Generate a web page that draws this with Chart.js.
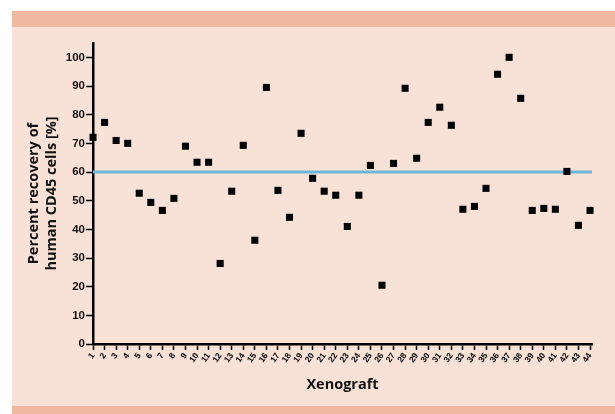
<!DOCTYPE html>
<html>
<head>
<meta charset="utf-8">
<script src="https://cdn.jsdelivr.net/npm/chart.js@4"></script>
<style>
  html, body { margin: 0; padding: 0; background: #ffffff; }
  #wrap { width: 615px; height: 414px; position: relative; }
</style>
</head>
<body>
<div id="wrap"><canvas id="c" width="615" height="414"></canvas></div>
<script>
// ---- data ----
const xenografts = [1,2,3,4,5,6,7,8,9,10,11,12,13,14,15,16,17,18,19,20,21,22,23,24,25,26,27,28,29,30,31,32,33,34,35,36,37,38,39,40,41,42,43,44];
const recovery = [72.1,77.3,71.0,70.0,52.6,49.4,46.6,50.8,69.0,63.4,63.4,28.1,53.3,69.3,36.2,89.5,53.6,44.2,73.5,57.8,
                  53.3,51.9,41.0,51.9,62.3,20.5,63.0,89.2,64.8,77.3,82.6,76.3,47.0,48.0,54.3,94.1,100.0,85.7,46.6,47.3,
                  47.0,60.2,41.4,46.6];
const yTicks = [0,10,20,30,40,50,60,70,80,90,100];
const thresholdValue = 60;
const xTitle = 'Xenograft';
const yTitle = ['Percent recovery of', 'human CD45 cells [%]'];

const xMin = xenografts[0];
const xMax = xenografts[xenografts.length - 1] + 0.17;

const bgPlugin = {
  id: 'panelBg',
  beforeDraw(chart) {
    const ctx = chart.ctx;
    ctx.save();
    ctx.fillStyle = '#ffffff';
    ctx.fillRect(0, 0, chart.width, chart.height);
    ctx.fillStyle = '#F0B8A0';
    ctx.fillRect(12, 11, chart.width - 12, 16);
    ctx.fillStyle = '#F8E2D7';
    ctx.fillRect(12, 27, chart.width - 12, 379);
    ctx.fillStyle = '#F0B8A0';
    ctx.fillRect(12, 406, chart.width - 12, 8);
    ctx.restore();
  }
};

new Chart(document.getElementById('c'), {
  type: 'scatter',
  data: {
    datasets: [
      {
        type: 'line',
        label: 'threshold',
        data: [{x: xMin, y: thresholdValue}, {x: xMax, y: thresholdValue}],
        borderColor: '#6CB6D8',
        borderWidth: 3,
        pointRadius: 0,
        fill: false,
        clip: false,
        order: 2
      },
      {
        label: 'recovery',
        data: xenografts.map((x, i) => ({x: x, y: recovery[i]})),
        pointStyle: 'rect',
        pointRadius: 5,
        pointHoverRadius: 5,
        backgroundColor: '#000000',
        borderColor: '#000000',
        borderWidth: 0,
        clip: false,
        order: 1
      }
    ]
  },
  options: {
    responsive: false,
    animation: false,
    layout: { padding: { left: 16, right: 23, top: 43, bottom: 20 } },
    plugins: { legend: { display: false }, tooltip: { enabled: false } },
    scales: {
      x: {
        type: 'linear',
        min: xMin,
        max: xMax,
        afterBuildTicks(scale) { scale.ticks = xenografts.map(v => ({value: v})); },
        afterCalculateLabelRotation(scale) { scale.labelRotation = 55; },
        afterFit(scale) {
          scale.height = 50;
          scale.paddingLeft = 0; scale.paddingRight = 0;
        },
        grid: { drawOnChartArea: false, drawTicks: true, tickLength: 6, tickWidth: 1.5, tickColor: '#000' },
        border: { display: true, color: '#000', width: 2.5 },
        ticks: {
          autoSkip: false,
          maxRotation: 55,
          minRotation: 55,
          padding: 1,
          color: '#000',
          font: { family: 'Liberation Sans', weight: 'bold', size: 8.5 },
          callback: (v) => String(v)
        },
        title: {
          display: true,
          text: xTitle,
          color: '#111',
          padding: { top: 0, bottom: 0 },
          font: { family: 'Open Sans', weight: 'bold', size: 14.5 }
        }
      },
      y: {
        min: 0,
        max: 105,
        afterBuildTicks(scale) { scale.ticks = yTicks.map(v => ({value: v})); },
        afterFit(scale) {
          scale.width = 77;
          scale.paddingTop = 0; scale.paddingBottom = 0;
        },
        grid: { drawOnChartArea: false, drawTicks: true, tickLength: 7, tickWidth: 1.5, tickColor: '#000' },
        border: { display: true, color: '#000', width: 2.5 },
        ticks: {
          padding: 1,
          color: '#111',
          font: { family: 'Liberation Sans', weight: 'bold', size: 11.5 },
          callback: (v) => String(v)
        },
        title: {
          display: true,
          text: yTitle,
          color: '#111',
          padding: { top: 9, bottom: 0 },
          font: { family: 'Open Sans', weight: 'bold', size: 14.5, lineHeight: 1.25 }
        }
      }
    }
  },
  plugins: [bgPlugin]
});
</script>
</body>
</html>
